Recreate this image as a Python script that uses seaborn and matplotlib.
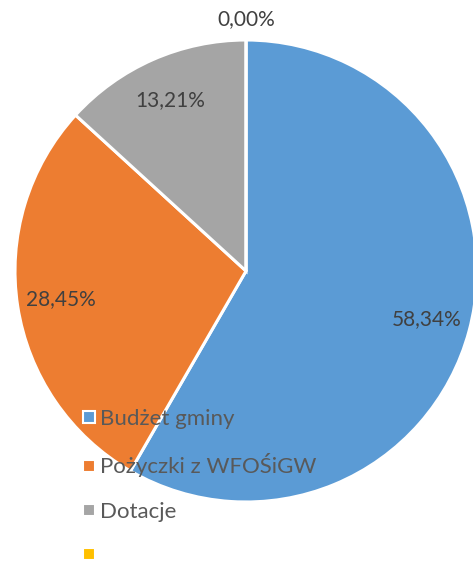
import matplotlib
matplotlib.use("Agg")
import matplotlib.pyplot as plt
import seaborn as sns
from matplotlib.lines import Line2D

sns.set_theme(style="white")
plt.rcParams['font.family'] = ['Lato', 'DejaVu Sans']

categories = ["Budżet gminy", "Pożyczki z WFOŚiGW", "Dotacje", ""]
values = [58.34, 28.45, 13.21, 0.00]
pct_labels = ["58,34%", "28,45%", "13,21%", "0,00%"]
colors = ["#5B9BD5", "#ED7D31", "#A5A5A5", "#FFC000"]

W, H = 473, 563
fig = plt.figure(figsize=(W / 100, H / 100), dpi=100)
ax = fig.add_axes([0, 0, 1, 1])
cx, cy, R = 246, 271, 231

wedges, outer, inner = ax.pie(
    values, colors=colors, startangle=90, counterclock=False,
    labels=["" if v > 0 else l for v, l in zip(values, pct_labels)],
    labeldistance=1.09,
    autopct=lambda p: "",
    pctdistance=0.81,
    wedgeprops=dict(edgecolor="white", linewidth=2.2),
    textprops=dict(color="#404040", fontsize=15),
)
for t, v, l in zip(inner, values, pct_labels):
    t.set_text(l if v > 0 else "")
    t.set_fontsize(15)
    t.set_color("#404040")
for t in outer:
    t.set_ha("center")
    t.set_va("center")
    t.set_fontsize(15)

ax.set_xlim(-cx / R, (W - cx) / R)
ax.set_ylim(-(H - cy) / R, cy / R)
ax.set_aspect("auto")
ax.axis("off")

handles = [Line2D([], [], marker="s", linestyle="none", markersize=8,
                  markerfacecolor=c, markeredgecolor="white", markeredgewidth=1.5)
           for c in colors]
leg = fig.legend(handles, categories, loc="upper left",
                 bbox_to_anchor=(70 / W, 1 - 400 / H), frameon=False,
                 fontsize=16, labelspacing=1.1, handletextpad=0.05,
                 handlelength=0.9, borderaxespad=0)
for t in leg.get_texts():
    t.set_color("#595959")

fig.savefig("out.png", dpi=100)
